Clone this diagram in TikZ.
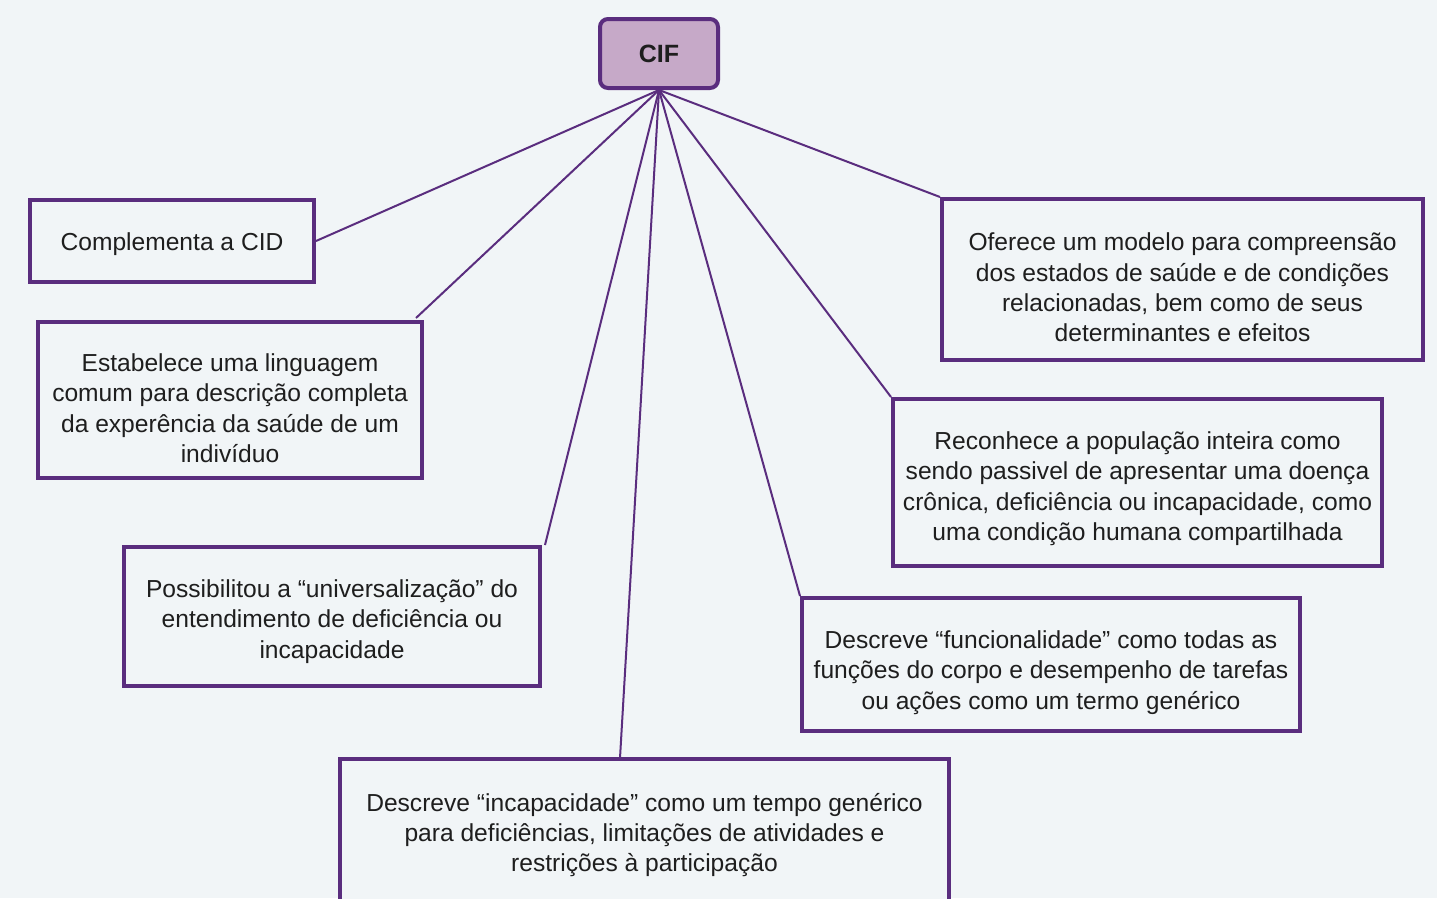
\documentclass[tikz,border=0pt]{standalone}
\usepackage{fontspec}
\setmainfont{Liberation Sans}
\definecolor{bg}{HTML}{F1F5F7}
\definecolor{pur}{HTML}{5A2D7E}
\definecolor{lil}{HTML}{C6A9C8}
\definecolor{txt}{HTML}{1E1E1E}
\begin{document}
\begin{tikzpicture}[x=1pt,y=-1pt,
  box/.style={draw=pur,line width=4pt,fill=bg,inner sep=0pt},
  lbl/.style={align=center,inner sep=0pt,text=txt,font=\fontsize{24.6}{30.4}\selectfont},
  conn/.style={draw=pur,line width=2pt}]
\fill[bg] (0,0) rectangle (1437,898);
\useasboundingbox (0,0) rectangle (1437,898);
\begin{scope}
\clip (0,0) rectangle (1437,898);
\node[box,fill=lil,rounded corners=8pt,minimum width=118pt,minimum height=69pt,text=txt,font=\bfseries\fontsize{25}{28}\selectfont] (cif) at (659,53.5) {CIF};
\node[box,minimum width=284pt,minimum height=82pt] (cid) at (172,241) {};
\node[box,minimum width=384pt,minimum height=156pt] (est) at (230,400) {};
\node[box,minimum width=416pt,minimum height=139pt] (pos) at (332,616.5) {};
\node[box,minimum width=609pt,minimum height=150pt] (inc) at (644.5,834) {};
\node[box,minimum width=498pt,minimum height=133pt] (func) at (1051,664.5) {};
\node[box,minimum width=489pt,minimum height=167pt] (rec) at (1137.5,482.5) {};
\node[box,minimum width=481pt,minimum height=161pt] (ofe) at (1182.5,279.5) {};
\node[lbl] (cidT) at ([yshift=-3pt]cid.center) {Complementa a CID};
\node[lbl] (estT) at ([yshift=-8pt]est.center) {Estabelece uma linguagem\\comum para descrição completa\\da experência da saúde de um\\indivíduo};
\node[lbl] (posT) at ([yshift=-5pt]pos.center) {Possibilitou a “universalização” do\\entendimento de deficiência ou\\incapacidade};
\node[lbl] (incT) at ([yshift=-1pt]inc.center) {Descreve “incapacidade” como um tempo genérico\\para deficiências, limitações de atividades e\\restrições à participação};
\node[lbl] (funcT) at ([yshift=-8pt]func.center) {Descreve “funcionalidade” como todas as\\funções do corpo e desempenho de tarefas\\ou ações como um termo genérico};
\node[lbl] (recT) at ([yshift=-6pt]rec.center) {Reconhece a população inteira como\\sendo passivel de apresentar uma doença\\crônica, deficiência ou incapacidade, como\\uma condição humana compartilhada};
\node[lbl] (ofeT) at ([yshift=-8pt]ofe.center) {Oferece um modelo para compreensão\\dos estados de saúde e de condições\\relacionadas, bem como de seus\\determinantes e efeitos};
\coordinate (incTop) at (620,758);
\coordinate (estTop) at (416,318);
\coordinate (posTop) at (545,545);
\end{scope}
\draw[conn] (cif.south) -- (cid.east);
\draw[conn] (cif.south) -- (estTop);
\draw[conn] (cif.south) -- (posTop);
\draw[conn] (cif.south) -- (incTop);
\draw[conn] (cif.south) -- (func.north west);
\draw[conn] (cif.south) -- (rec.north west);
\draw[conn] (cif.south) -- (ofe.north west);
\end{tikzpicture}
\end{document}
